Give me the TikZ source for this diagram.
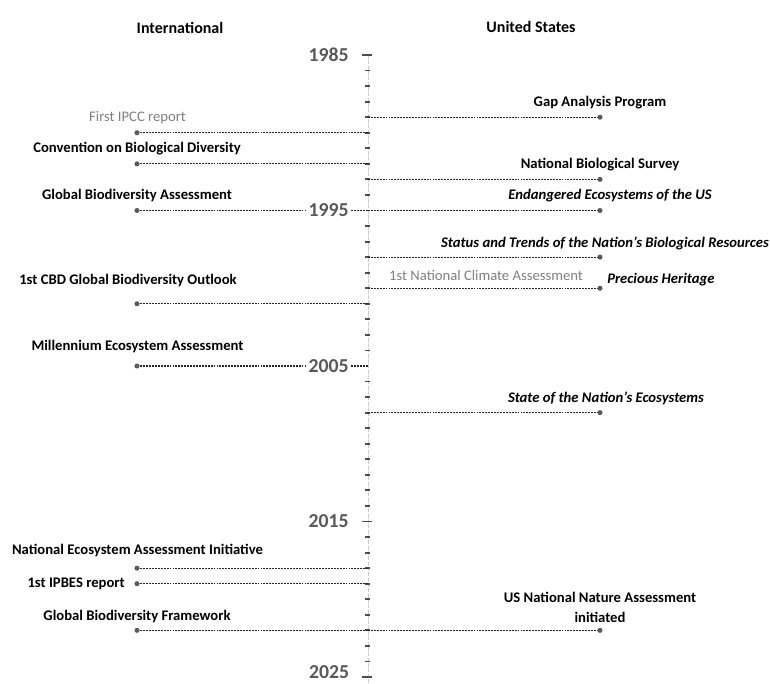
\documentclass[tikz,border=0pt]{standalone}
\usepackage{fontspec}
\setmainfont{Carlito}
\begin{document}
\begin{tikzpicture}[x=0.75pt,y=-0.75pt,
  conn/.style={draw=black!85, line width=0.95pt, dash pattern=on 1.4pt off 0.8pt},
  marker/.style={circle, fill=black!65, inner sep=0pt, minimum size=3.8pt},
  ev/.style={font=\fontsize{11}{13}\selectfont\bfseries, text=black, inner sep=0pt},
  evit/.style={font=\fontsize{11}{13}\selectfont\bfseries\itshape, text=black, inner sep=0pt},
  evgrey/.style={font=\fontsize{11}{13}\selectfont, text=black!50, inner sep=0pt},
  yearlbl/.style={font=\fontsize{14.8}{16}\selectfont\bfseries, text=black!65, anchor=east, fill=white, inner sep=1.5pt},
  head/.style={font=\fontsize{12}{14}\selectfont\bfseries, inner sep=0pt},
  axisline/.style={draw=black!20, line width=0.6pt, dash pattern=on 3pt off 1pt},
  minortick/.style={draw=black!70, line width=1.4pt},
  majortick/.style={draw=black!70, line width=1.4pt}
]
\useasboundingbox (0,0) rectangle (770,684);

% headings
\node[head] (hint) at (180,28) {International};
\node[head] (hus) at (531,27) {United States};

% axis
\coordinate (axtop) at (368.5,55);
\coordinate (axbot) at (368.5,684);
\draw[axisline] (axtop) -- (axbot);
\foreach \d in {0,10,20,30}
  \foreach \j in {1,...,9}
    \draw[minortick] (365,{55+(\d+\j)*15.55}) -- (369.5,{55+(\d+\j)*15.55});
\foreach \i in {0,30,40}
  \draw[majortick] (362,{55+\i*15.55}) -- (372,{55+\i*15.55});

% axis anchor points
\coordinate (a1989) at (368,117.2);
\coordinate (a1990) at (368,132.75);
\coordinate (a1992) at (368,163.85);
\coordinate (a1993) at (368,179.4);
\coordinate (a1995) at (368,210.5);
\coordinate (a1998) at (368,257.15);
\coordinate (a2000) at (368,288.25);
\coordinate (a2001) at (368,303.8);
\coordinate (a2005) at (368,366);
\coordinate (a2008) at (368,412.65);
\coordinate (a2018) at (368,568.15);
\coordinate (a2019) at (368,583.7);
\coordinate (a2022) at (368,630.35);

% markers
\node[marker] (r1989) at (600,117.2) {};
\node[marker] (l1990) at (137,132.75) {};
\node[marker] (l1992) at (137,163.85) {};
\node[marker] (r1993) at (600,179.4) {};
\node[marker] (l1995) at (137,210.5) {};
\node[marker] (r1995) at (600,210.5) {};
\node[marker] (r1998) at (600,257.15) {};
\node[marker] (r2000) at (600,288.25) {};
\node[marker] (l2001) at (137,303.8) {};
\node[marker] (l2005) at (137,366) {};
\node[marker] (r2008) at (600,412.65) {};
\node[marker] (l2018) at (137,568.15) {};
\node[marker] (l2019) at (137,583.7) {};
\node[marker] (l2022) at (137,630.35) {};
\node[marker] (r2022) at (600,630.35) {};

% connectors
\draw[conn] (a1989) -- (r1989);
\draw[conn] (a1990) -- (l1990);
\draw[conn] (a1992) -- (l1992);
\draw[conn] (a1993) -- (r1993);
\draw[conn] (a1995) -- (l1995);
\draw[conn] (a1995) -- (r1995);
\draw[conn] (a1998) -- (r1998);
\draw[conn] (a2000) -- (r2000);
\draw[conn] (a2001) -- (l2001);
\draw[conn] (a2005) -- (l2005);
\draw[conn] (a2008) -- (r2008);
\draw[conn] (a2018) -- (l2018);
\draw[conn] (a2019) -- (l2019);
\draw[conn] (a2022) -- (l2022);
\draw[conn] (a2022) -- (r2022);

% year labels
\node[yearlbl] (y1985) at (351,55) {1985};
\node[yearlbl] (y1995) at (351,210.5) {1995};
\node[yearlbl] (y2005) at (351,366) {2005};
\node[yearlbl] (y2015) at (351,521.5) {2015};
\node[yearlbl, inner sep=0.5pt] (y2025) at (350,672) {2025};

% international events
\node[evgrey] (t1990) at (137.5,118) {First IPCC report};
\node[ev] (t1992) at (137,149) {Convention on Biological Diversity};
\node[ev] (t1995l) at (137,196) {Global Biodiversity Assessment};
\node[ev] (t2001) at (128,281) {1st CBD Global Biodiversity Outlook};
\node[ev] (t2005) at (137.5,347) {Millennium Ecosystem Assessment};
\node[ev] (t2018) at (137.5,550) {National Ecosystem Assessment Initiative};
\node[ev, anchor=east] (t2019) at (125,583.7) {1st IPBES report};
\node[ev] (t2022l) at (137,617) {Global Biodiversity Framework};

% US events
\node[ev] (t1989) at (600,103) {Gap Analysis Program};
\node[ev] (t1993) at (600,165) {National Biological Survey};
\node[evit] (t1995r) at (610,196) {Endangered Ecosystems of the US};
\node[evit] (t1998) at (605,243) {Status and Trends of the Nation’s Biological Resources};
\node[evgrey] (t2000g) at (486,275) {1st National Climate Assessment};
\node[evit, anchor=west] (t2000) at (607,280) {Precious Heritage};
\node[evit] (t2008) at (606,398) {State of the Nation’s Ecosystems};
\node[ev, align=center] (t2022r) at (600,607) {US National Nature Assessment\\[2pt]initiated};
\end{tikzpicture}
\end{document}
